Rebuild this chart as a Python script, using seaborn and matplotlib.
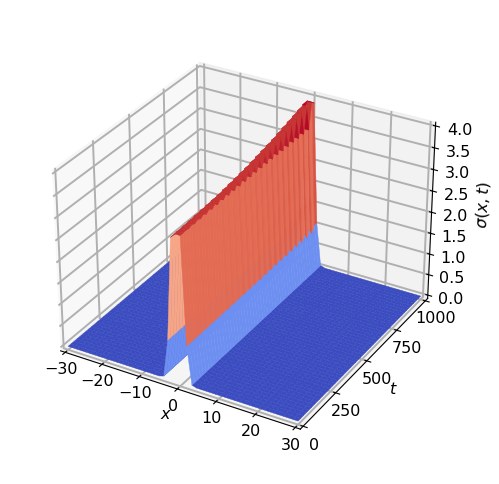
import numpy as np
import matplotlib
matplotlib.use('Agg')
import matplotlib.pyplot as plt
import seaborn as sns

x_ticks = [-30, -20, -10, 0, 10, 20, 30]
t_ticks = [0, 250, 500, 750, 1000]
z_ticks = [0, 0.5, 1, 1.5, 2, 2.5, 3, 3.5, 4]
z_labels = ['0.0', '0.5', '1.0', '1.5', '2.0', '2.5', '3.0', '3.5', '4.0']

x_values = np.linspace(-30, 30, 50)
t_values = np.linspace(0, 1000, 50)

# sigma across the ridge, relative to the crest, read at each x grid point
profile = [0.0]*21 + [0.01, 0.27, 0.97, 1.0, 1.0, 0.27, 0.01] + [0.0]*22

# colour level of each strip of facets between two x grid points
strip_levels = [0.0]*21 + [0.16, 0.72, 0.95, 0.95, 0.85, 0.16] + [0.0]*22

# crest height along t
crest = [3.38, 3.38, 3.39, 3.37, 3.40, 3.37, 3.41, 3.37, 3.42, 3.37,
         3.43, 3.37, 3.44, 3.37, 3.45, 3.37, 3.46, 3.37, 3.48, 3.37,
         3.50, 3.37, 3.52, 3.37, 3.54, 3.37, 3.56, 3.37, 3.59, 3.37,
         3.62, 3.37, 3.65, 3.37, 3.68, 3.37, 3.71, 3.36, 3.75, 3.36,
         3.79, 3.36, 3.83, 3.35, 3.87, 3.35, 3.91, 3.35, 3.95, 3.88]

X, T = np.meshgrid(x_values, t_values)
Z = np.outer(crest, profile)

cmap = sns.color_palette('coolwarm', as_cmap=True)
levels = np.outer(np.ones(len(t_values)), np.append(strip_levels, 0.0))
ridge = levels > 0.5
levels[ridge] += (0.08*(np.array(crest) - 3.38)[:, None]*np.ones(levels.shape))[ridge]
colors = cmap(np.clip(levels, 0, 1))

plt.rcParams['grid.linewidth'] = 1.4

fig = plt.figure(figsize=(4.99, 4.84), dpi=100)
ax = fig.add_subplot(111, projection='3d')
ax.plot_surface(X, T, Z, facecolors=colors, shade=False, rstride=1, cstride=1,
                linewidth=0.3, antialiased=True)
ax.set_xlim(-31.25, 31.25)
ax.set_ylim(-20.8, 1020.8)
ax.set_zlim(-0.083, 4.083)
ax.set_xticks(x_ticks)
ax.set_yticks(t_ticks)
ax.set_zticks(z_ticks)
ax.set_zticklabels(z_labels)
ax.tick_params(labelsize=11.5)
ax.tick_params(axis='x', pad=-3)
ax.tick_params(axis='y', pad=-1)
ax.tick_params(axis='z', pad=2.5)
ax.set_xlabel('$x$', fontsize=11.5, labelpad=-8)
ax.set_ylabel('$t$', fontsize=11.5, labelpad=-3)
ax.set_zlabel(r'$\sigma(x,t)$', fontsize=11.5, labelpad=2)
ax.set_position([0.057, 0.026, 0.855, 0.945])

fig.savefig('out.png', dpi=100)
